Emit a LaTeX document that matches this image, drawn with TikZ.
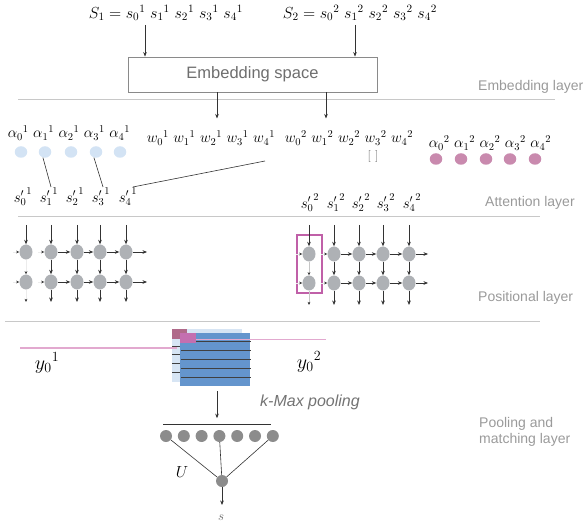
\RequirePackage{fix-cm}
\documentclass[tikz,border=0pt]{standalone}
\usepackage{fontspec}
\newfontfamily\sansf{Liberation Sans}
\usetikzlibrary{arrows.meta,shapes.geometric}
\definecolor{sepc}{HTML}{C8C8C8}
\definecolor{boxc}{HTML}{8A8A8A}
\definecolor{txtc}{HTML}{6E6E6E}
\definecolor{lblc}{HTML}{9A9A9A}
\definecolor{arrc}{HTML}{333333}
\definecolor{blued}{HTML}{D3E3F4}
\definecolor{pinkd}{HTML}{C98AAE}
\definecolor{gnodec}{HTML}{AEB1B5}
\definecolor{pooldc}{HTML}{8C8C8C}
\definecolor{backm}{HTML}{D7E5F4}
\definecolor{frontm}{HTML}{6495CD}
\definecolor{pinkdark}{HTML}{B06A8A}
\definecolor{pinkfront}{HTML}{C46FB0}
\definecolor{pinkline}{HTML}{E2A9CF}
\definecolor{rectc}{HTML}{C060A8}
\begin{document}
\begin{tikzpicture}[x=1pt,y=-1pt,
  arr/.style={draw=arrc,line width=0.6pt,-{Stealth[length=4.5pt,width=3.6pt]}},
  tinyarr/.style={draw=gray!15,line width=0.5pt,-{Stealth[length=3.2pt,width=2.8pt,color=arrc]}},
  thin/.style={draw=arrc,line width=0.6pt},
  sep/.style={draw=sepc,line width=1pt},
  lbl/.style={text=lblc,font=\sansf\fontsize{14}{16}\selectfont,anchor=west,inner sep=0},
  mth/.style={font=\fontsize{15}{18}\selectfont,inner sep=0},
  bigmth/.style={font=\fontsize{16}{19}\selectfont,inner sep=0},
  gnode/.style={ellipse,fill=gnodec,minimum width=13pt,minimum height=15pt,inner xsep=3pt,inner ysep=2pt},
  bdot/.style={ellipse,fill=blued,minimum width=12.5pt,minimum height=11.5pt,inner sep=0},
  pkdot/.style={ellipse,fill=pinkd,minimum width=12.5pt,minimum height=11.5pt,inner sep=0},
  pldot/.style={circle,fill=pooldc,minimum size=12pt,inner sep=0},
  mline/.style={draw=black!75,line width=0.9pt}]
\useasboundingbox (0,0) rectangle (583,529);

% ---------- Embedding layer ----------
\node[bigmth] (S1) at (166,13) {$S_1 = {s_0}^1\ {s_1}^1\ {s_2}^1\ {s_3}^1\ {s_4}^1$};
\node[bigmth] (S2) at (360,13) {$S_2 = {s_0}^2\ {s_1}^2\ {s_2}^2\ {s_3}^2\ {s_4}^2$};
\node[draw=boxc,line width=0.9pt,minimum width=249pt,minimum height=35pt,inner sep=0,
      text=txtc,font=\sansf\fontsize{16.5}{19}\selectfont] (emb) at (252.5,74.5) {\raisebox{-1.5pt}{Embedding space}};
\coordinate (topS) at (0,25);
\draw[arr] ([xshift=-21pt]S1.center |- topS) -- ([xshift=-21pt]S1.center |- emb.north);
\draw[arr] ([xshift=-5pt]S2.center |- topS) -- ([xshift=-5pt]S2.center |- emb.north);
\node[lbl] (lemb) at (478,87) {Embedding layer};
\draw[sep] (18,100) -- (555,100);
\draw[arr] ([xshift=-35.5pt]emb.south) -- ++(0,26);
\draw[arr] ([xshift=73.5pt]emb.south) -- ++(0,26);

% ---------- Attention layer ----------
\node[mth] (al1) at (69,133) {${\alpha_0}^1\ {\alpha_1}^1\ {\alpha_2}^1\ {\alpha_3}^1\ {\alpha_4}^1$};
\node[mth] (w1) at (211,138) {${w_0}^1\ {w_1}^1\ {w_2}^1\ {w_3}^1\ {w_4}^1$};
\node[mth] (w2) at (349,138) {${w_0}^2\ {w_1}^2\ {w_2}^2\ {w_3}^2\ {w_4}^2$};
\node[mth] (al2) at (490,143) {${\alpha_0}^2\ {\alpha_1}^2\ {\alpha_2}^2\ {\alpha_3}^2\ {\alpha_4}^2$};
\node[inner sep=0,text=black!60,font=\fontsize{12}{14}\selectfont] (brk) at (373,157) {[\,\,]};
\foreach \i/\x in {0/21,1/45,2/71,3/96,4/120}
  \node[bdot] (da\i) at (\x,152) {};
\foreach \i/\x in {0/436,1/461,2/486,3/510,4/535}
  \node[pkdot] (db\i) at (\x,159) {};
\foreach \i/\x in {0/23,1/49,2/75,3/101,4/128}
  \node[mth] (sa\i) at (\x,197) {${s'_\i}^1$};
\foreach \i/\x in {0/310,1/336,2/361,3/386,4/412}
  \node[mth] (sb\i) at (\x,203) {${s'_\i}^2$};
\coordinate (lw) at (265,161);
\draw[thin] (da1.250) -- ([xshift=2pt,yshift=1pt]sa1.north);
\draw[thin] (da3.250) -- ([xshift=2pt,yshift=1pt]sa3.north);
\draw[thin] (lw) -- ([xshift=5pt,yshift=1pt]sa4.north);
\node[lbl] (latt) at (485,203) {Attention layer};
\draw[sep] (18,217) -- (540,217);

% ---------- Positional layer ----------
\coordinate (topG) at (0,225);
\coordinate (botL) at (0,302);
\coordinate (botR) at (0,305);
\coordinate (outL) at (147,0);
\coordinate (outR) at (428,0);
\foreach \c/\x in {0/26,1/51,2/77,3/100,4/126}{
  \node[gnode] (L1\c) at (\x,252) {};
  \node[gnode] (L2\c) at (\x,282) {};}
\foreach \c/\x in {0/309,1/334,2/359,3/383,4/409}{
  \node[gnode] (R1\c) at (\x,254) {};
  \node[gnode] (R2\c) at (\x,283) {};}
\draw[draw=rectc,line width=1.2pt] (297,235) rectangle (322,293);
\foreach \G/\B/\O in {L/botL/outL,R/botR/outR}{
  \foreach \c in {0,...,4}
    \draw[arr] (\G1\c |- topG) -- (\G1\c.north);
  \foreach \r in {1,2}{
    \draw[arr] (\G\r1.east) -- (\G\r2.west);
    \draw[arr] (\G\r2.east) -- (\G\r3.west);
    \draw[arr] (\G\r3.east) -- (\G\r4.west);
    \draw[arr] (\G\r4.east) -- (\G\r4.east -| \O);
    \draw[tinyarr] ([xshift=-6pt]\G\r0.west) -- (\G\r0.west);
    \draw[tinyarr] ([xshift=-6pt]\G\r1.west) -- (\G\r1.west);}
  \foreach \c in {1,...,4}{
    \draw[arr] (\G1\c.south) -- (\G2\c.north);
    \draw[arr] (\G2\c.south) -- (\G2\c |- \B);}
}
\draw[tinyarr] (L10.south) -- (L20.north);
\draw[tinyarr] (L20.south) -- (L20 |- botL);
\draw[tinyarr,draw=gray!45] (R10.south) -- (R20.north);
\draw[tinyarr,draw=gray!45] (R20.south) -- (R20 |- botR);
\node[lbl] (lpos) at (478,298) {Positional layer};
\draw[sep] (5,321) -- (540,321);

% ---------- Pooling and matching layer ----------
\node[fill=backm,minimum width=70pt,minimum height=53pt,inner sep=0] (back) at (207,355.5) {};
\fill[pinkdark] (172,329) rectangle (187,339);
\foreach \yy in {346,354,363,372}
  \draw[mline] (172,\yy) -- (242,\yy);
\draw[draw=pinkline,line width=1.6pt] (20,348) -- (177,348);
\node[fill=frontm,minimum width=70pt,minimum height=53pt,inner sep=0] (front) at (215,359.5) {};
\foreach \yy in {341,350,359,368,377}
  \draw[mline] (181,\yy) -- (251,\yy);
\fill[pinkfront] (180,333) rectangle (196,343);
\draw[draw=pinkline,line width=1.4pt] (196,339.5) -- (326,339.5);
\node[inner sep=0,font=\fontsize{20}{24}\selectfont] (y1) at (47,363) {${y_0}^1$};
\node[inner sep=0,font=\fontsize{20}{24}\selectfont] (y2) at (309,362) {${y_0}^2$};
\draw[arr] ([xshift=2pt,yshift=-5pt]front.south) -- ++(0,27);
\node[text=black!55,font=\sansf\itshape\fontsize{16}{19}\selectfont,anchor=west,inner sep=0] (kmax) at (260,402) {k-Max pooling};
\foreach \i in {0,...,6}
  \node[pldot] (P\i) at ({166+17.8*\i},436) {};
\draw[thin] (163,424) -- (271,424);
\node[pldot] (B) at (222,481) {};
\draw[thin] (P0) -- (B);
\draw[thin] (P3) -- (B);
\draw[thin] (P6) -- (B);
\coordinate (sC) at (0,505);
\draw[arr] (B.south) -- (B.south |- sC);
\node[inner sep=0,font=\fontsize{16}{19}\selectfont] (U) at (182,472) {$U$};
\node[inner sep=0,text=black!60,font=\fontsize{13}{15}\selectfont] (s) at (221,518) {$s$};
\node[lbl,align=left] (lpool) at (479,432) {Pooling and\\matching layer};
\end{tikzpicture}
\end{document}
